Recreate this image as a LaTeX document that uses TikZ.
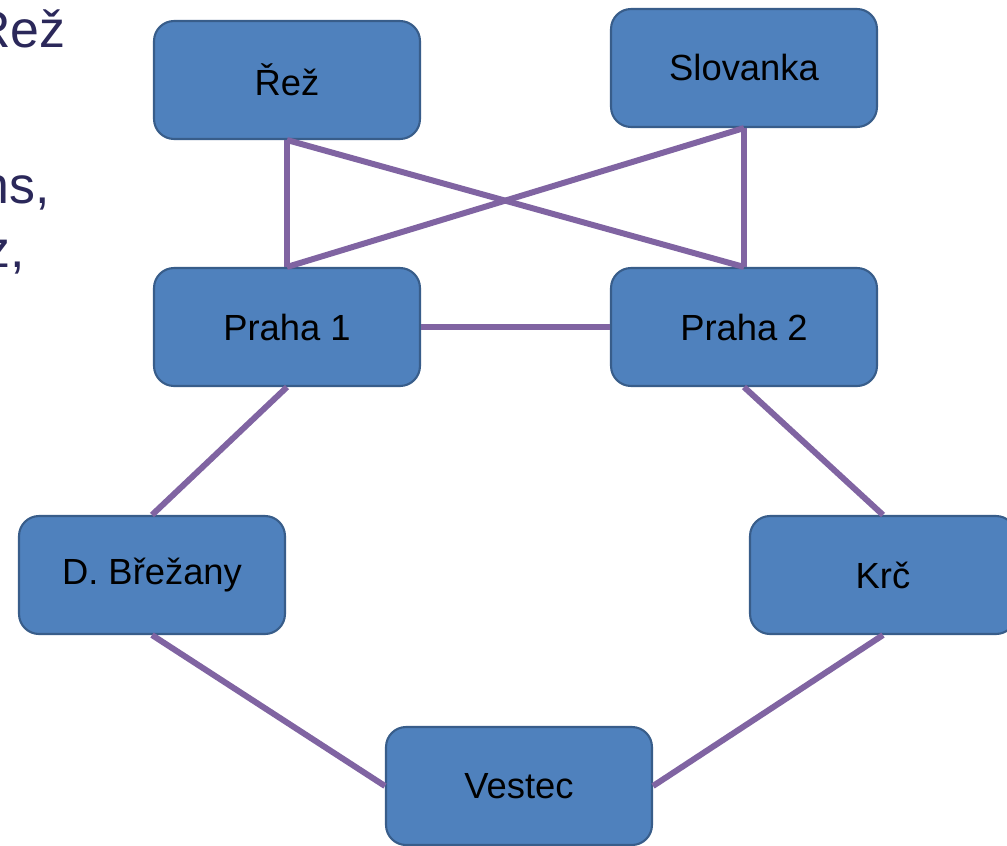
\documentclass[tikz,border=0pt]{standalone}
\usepackage{fontspec}
\setmainfont{Liberation Sans}
\usetikzlibrary{positioning}

\definecolor{boxfill}{RGB}{79,129,189}
\definecolor{boxline}{RGB}{56,93,138}
\definecolor{linkcol}{RGB}{128,100,162}
\definecolor{slidetext}{RGB}{43,40,90}

\tikzset{
  site/.style={draw=boxline, line width=1.2pt, fill=boxfill, rounded corners=0.4cm,
    minimum width=5.32cm, minimum height=2.36cm, inner sep=0pt,
    font=\fontsize{20.7}{24}\selectfont},
  link/.style={draw=linkcol, line width=3.4pt},
  slide/.style={anchor=base east, inner sep=0pt, text=slidetext,
    font=\fontsize{29.5}{34}\selectfont}
}

\begin{document}
\begin{tikzpicture}[x=0.02cm, y=-0.02cm]

\path[use as bounding box, clip] (0, 0) rectangle (1007, 845);
\fill[white] (0, 0) rectangle (1007, 845);

% Slide text
\node[slide] (t1) at (66, 47) {Rež};
\node[slide] (t2) at (50, 203) {ns,};
\node[slide] (t3) at (25, 267) {z,};

% Sites
\node[site] (rez) at (287, 80) {Řež};
\node[site] (slo) at (744, 68) {Slovanka};
\node[site] (p1) at (287, 327) {Praha 1};
\node[site] (p2) at (744, 327) {Praha 2};
\node[site] (bre) at (152, 575) {D. Břežany};
\node[site] (krc) at (883, 575) {Krč};
\node[site] (ves) at (519, 786) {Vestec};

% Links
\draw[link] (rez.south) -- (p2.north);
\draw[link] (slo.south) -- (p1.north);
\draw[link] (rez.south) -- (p1.north);
\draw[link] (slo.south) -- (p2.north);
\draw[link] (p1.east) -- (p2.west);
\draw[link] (p1.south) -- (bre.north);
\draw[link] (p2.south) -- (krc.north);
\draw[link] (bre.south) -- (ves.west);
\draw[link] (krc.south) -- (ves.east);

\end{tikzpicture}
\end{document}
